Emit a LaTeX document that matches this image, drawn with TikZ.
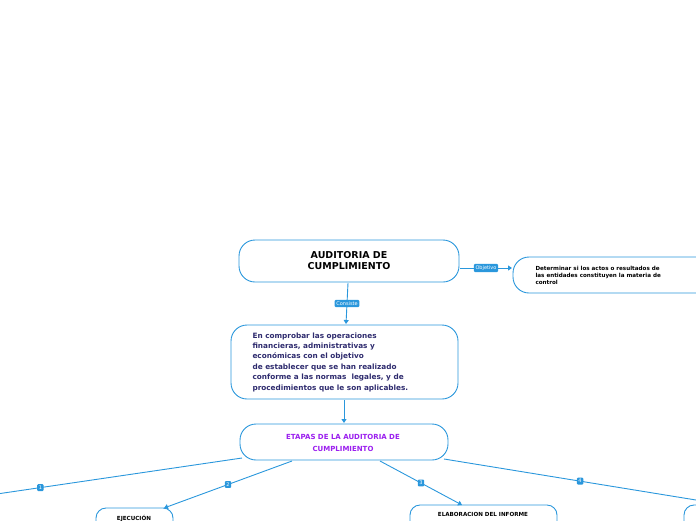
\documentclass[tikz,border=0pt]{standalone}
\usepackage{fontspec}
\setmainfont{DejaVu Sans}
\usetikzlibrary{positioning,arrows.meta}
\definecolor{mapblue}{HTML}{2A97DC}
\definecolor{navytext}{HTML}{2E2B6E}
\definecolor{purpletext}{HTML}{9B1FEF}
\tikzset{
  topicbox/.style={draw=mapblue, line width=0.9pt, rounded corners=16pt, fill=white},
  linklabel/.style={fill=mapblue, text=white, font=\fontsize{5}{6}\selectfont, inner sep=1.6pt, rounded corners=1pt},
  connect/.style={draw=mapblue, line width=0.9pt},
  arrowtip/.style={-{Triangle[length=4pt,width=5pt]}}
}
\begin{document}
\begin{tikzpicture}[x=1pt,y=-1pt]
\useasboundingbox (0,0) rectangle (696,520);
\clip (0,0) rectangle (696,520);
% main topic
\draw[topicbox] (239,240) rectangle (459,282);
\node[font=\bfseries\fontsize{9.5}{11}\selectfont, align=center] (title) at (349,261) {AUDITORIA DE\\CUMPLIMIENTO};
\coordinate (titleS) at (348,283);
\coordinate (titleE) at (460,268);
% objective
\draw[topicbox] (513,257) rectangle (720,293);
\node[font=\bfseries\fontsize{5.6}{7}\selectfont, align=left, anchor=west] (objetivo) at (532,275) {Determinar si los actos o resultados de\\las entidades constituyen la materia de\\control};
\coordinate (objW) at (512,268);
% description
\draw[topicbox] (231,325) rectangle (458,399);
\node[font=\bfseries\fontsize{7.3}{10.4}\selectfont, text=navytext, align=left, anchor=west] (consiste) at (249,362) {En comprobar las operaciones\\financieras, administrativas y\\económicas con el objetivo\\de establecer que se han realizado\\conforme a las normas\ \ legales, y de\\procedimientos que le son aplicables.};
\coordinate (descN) at (346,324);
\coordinate (descS) at (344,400);
% stages
\draw[topicbox] (240,424) rectangle (448,460);
\node[font=\bfseries\fontsize{7}{12}\selectfont, text=purpletext, align=center] (etapas) at (343,443) {ETAPAS DE LA AUDITORIA DE\\CUMPLIMIENTO};
\coordinate (etapasN) at (344,423);
% sub topics
\draw[topicbox, rounded corners=10pt] (96,508) rectangle (173,540);
\node[font=\bfseries\fontsize{5.6}{7}\selectfont] (ejecucion) at (134,518) {EJECUCIÓN};
\draw[topicbox, rounded corners=10pt] (410,505) rectangle (557,540);
\node[font=\bfseries\fontsize{5.6}{7}\selectfont] (informe) at (483,514) {ELABORACION DEL INFORME};
\draw[topicbox, rounded corners=10pt] (684,505) rectangle (760,540);
% connectors
\draw[connect, arrowtip] (titleS) -- node[linklabel] {Consiste} (descN);
\draw[connect, arrowtip] (titleE) -- node[linklabel] {Objetivo} (objW);
\draw[connect, arrowtip] (descS) -- (etapasN);
\draw[connect] (242,458) -- node[linklabel, pos=0.8] {1} (-10,495);
\draw[connect, arrowtip] (292,461) -- node[linklabel] {2} (164,508);
\draw[connect, arrowtip] (380,461) -- node[linklabel] {3} (462,505);
\draw[connect] (444,459) -- node[linklabel, pos=0.54] {4} (696,500);
\end{tikzpicture}
\end{document}
